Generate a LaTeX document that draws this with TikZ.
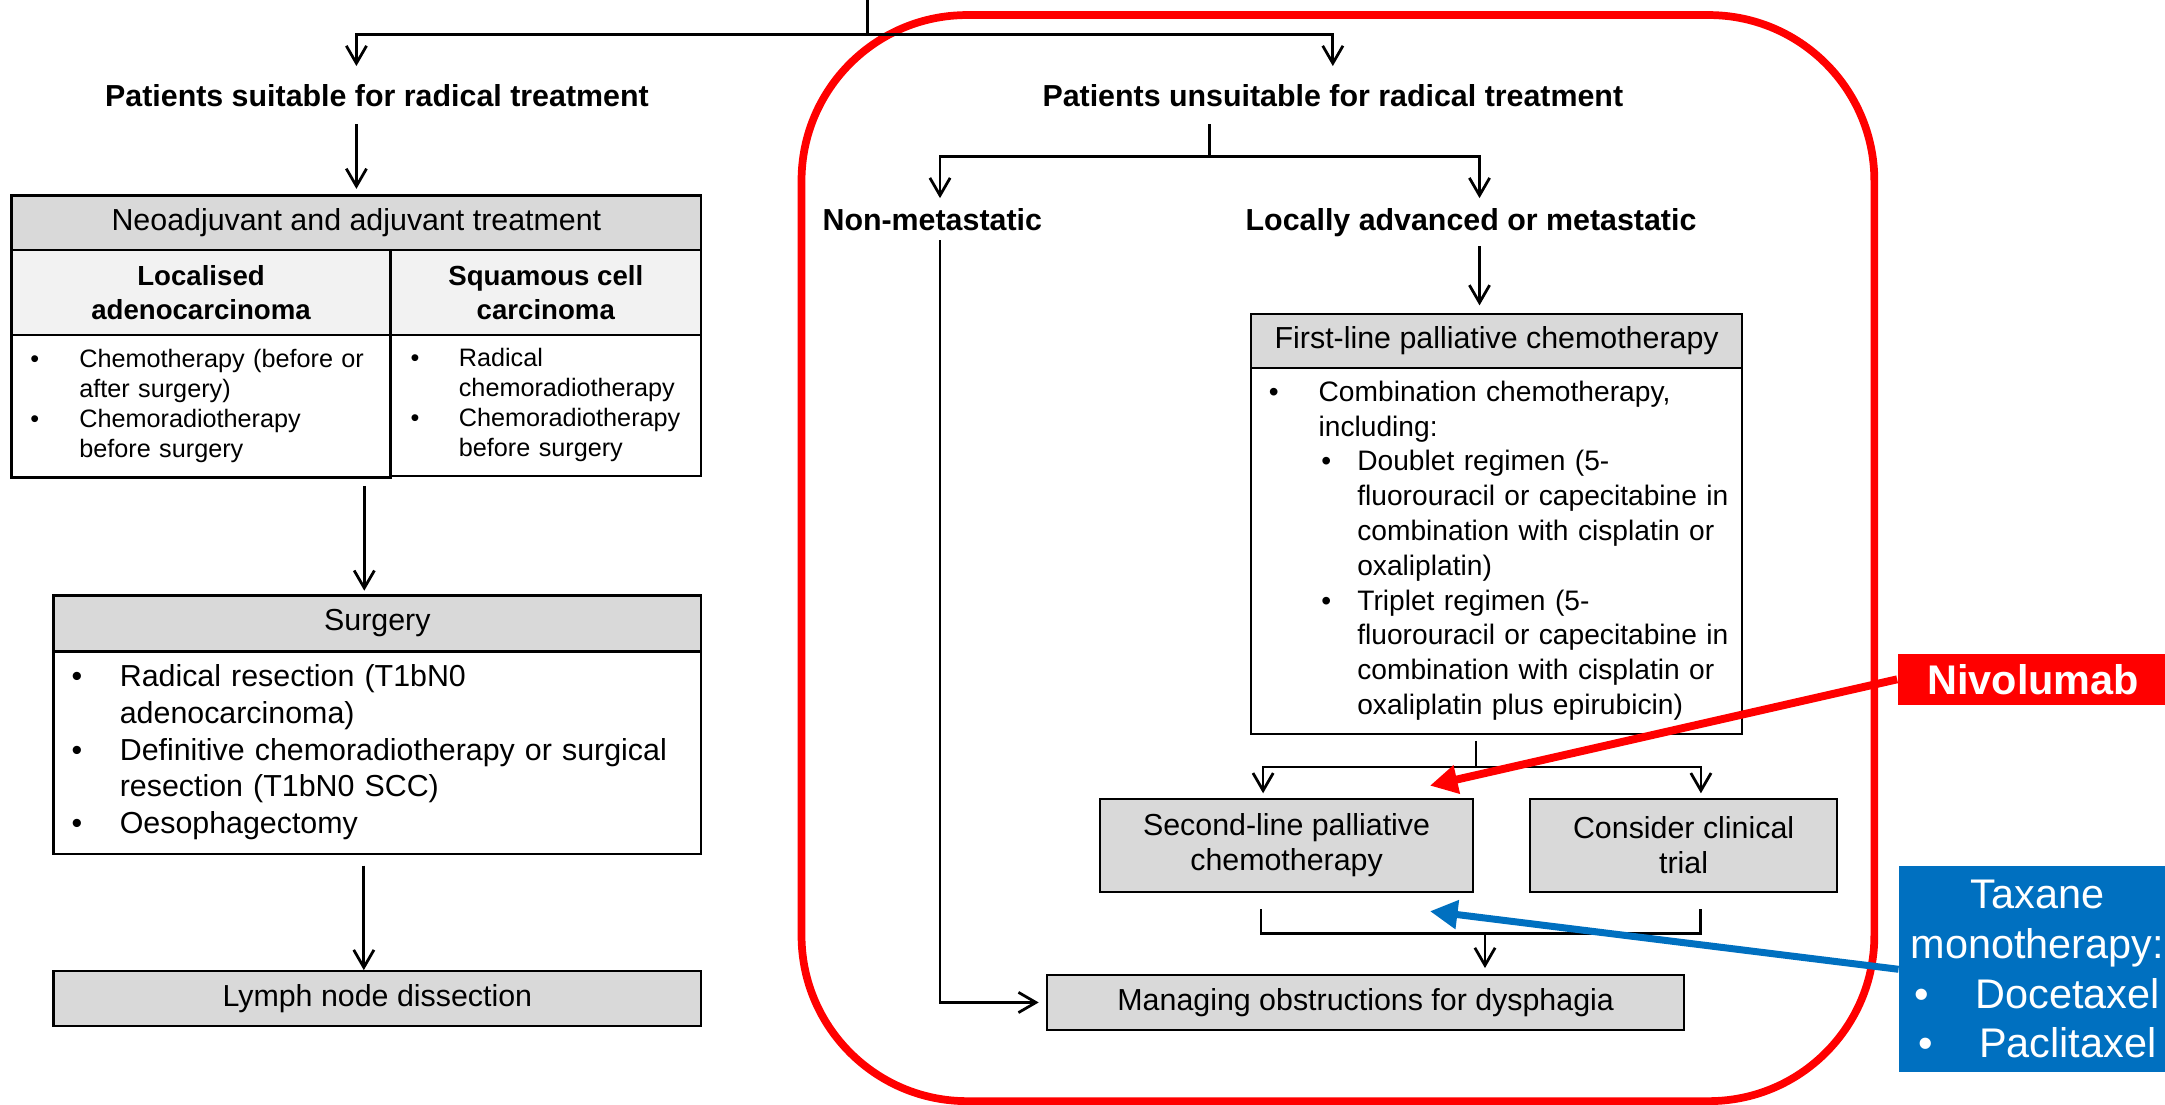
\documentclass[tikz,border=0pt]{standalone}
\usepackage{fontspec}
\setmainfont{Liberation Sans}
\usetikzlibrary{arrows.meta}

\definecolor{hdrgray}{HTML}{D9D9D9}
\definecolor{subgray}{HTML}{F2F2F2}
\definecolor{nivored}{HTML}{FF0000}
\definecolor{taxblue}{HTML}{0070C0}

\tikzset{every picture/.style={line width=0.75pt}}
\tikzset{
  conn/.style={line width=1.5pt},
  arr/.style={conn, -{Straight Barb[length=9.5pt,width=11pt]}},
  hdrbox/.style={draw, line width=1.2pt, fill=hdrgray, anchor=north west, inner sep=0pt, align=center, font=\fontsize{16.5}{18.9}\selectfont},
  subbox/.style={hdrbox, fill=subgray, font=\fontsize{15}{18.3}\selectfont\bfseries},
  listbox/.style={draw, line width=1.2pt, fill=white, anchor=north west, inner ysep=0pt, align=left},
  lbl/.style={anchor=base, inner xsep=0pt, inner ysep=9.4pt, font=\fontsize{16.5}{19.8}\selectfont\bfseries},
  redframe/.style={draw=nivored, line width=4.2pt, rounded corners=90pt},
  tagbox/.style={anchor=north west, inner sep=0pt, text=white, align=center, font=\fontsize{22.5}{27}\selectfont},
  nivoarr/.style={draw=nivored, line width=4.3pt, -{Triangle[length=15pt,width=15pt]}},
  taxarr/.style={draw=taxblue, line width=3.8pt, -{Triangle[length=15pt,width=15pt]}},
}

\begin{document}
\begin{tikzpicture}[x=0.75pt,y=0.75pt,yscale=-1,xscale=1]
\useasboundingbox (0,0) rectangle (1568,800);
\clip (0,0) rectangle (1568,800);

%Shape: Rounded Rect
\draw[redframe] (580.5,10.9) rectangle (1357.5,797.5);

% Text Node
\node[lbl] (suit) at (273,76.8) {Patients suitable for radical treatment};
% Text Node
\node[lbl] (unsuit) at (965.3,76.8) {Patients unsuitable for radical treatment};
% Text Node
\node[lbl, inner ysep=5pt] (nonmet) at (675.2,166.6) {Non-metastatic};
% Text Node
\node[lbl, inner ysep=5pt] (locally) at (1065.4,166.6) {Locally advanced or metastatic};

%Shape: Rectangle
\node[hdrbox, minimum width=374.6pt, minimum height=29.6pt] (neohead) at (7.6,140.8) {Neoadjuvant and adjuvant treatment};
\node[subbox, minimum width=205.8pt, minimum height=46.3pt] (neoadeno) at (7.6,180.3) {Localised\\adenocarcinoma};
\node[subbox, minimum width=168.75pt, minimum height=46.3pt] (neosqc) at (282,180.3) {Squamous cell\\carcinoma};
\node[listbox, inner xsep=10.2pt, text width=185.4pt, minimum height=77.25pt, font=\fontsize{13.7}{16.3}\selectfont] (adenolist) at (7.6,242) {%
\begin{tabular}{@{}p{26.6pt}@{}l@{}}
\textbullet & Chemotherapy (before or\\
 & after surgery)\\
\textbullet & Chemoradiotherapy\\
 & before surgery
\end{tabular}};
\node[listbox, inner xsep=10.9pt, text width=146.95pt, minimum height=76.5pt, font=\fontsize{13.7}{16.3}\selectfont] (sqclist) at (282,242) {%
\begin{tabular}{@{}p{26.25pt}@{}l@{}}
\textbullet & Radical\\
 & chemoradiotherapy\\
\textbullet & Chemoradiotherapy\\
 & before surgery
\end{tabular}};

%Shape: Rectangle
\node[hdrbox, minimum width=351.75pt, minimum height=30.4pt] (surghead) at (38,430.5) {Surgery};
\node[listbox, inner xsep=9.75pt, text width=332.25pt, minimum height=110pt, font=\fontsize{16.5}{20}\selectfont] (surglist) at (38,471) {%
\begin{tabular}{@{}p{26.25pt}@{}l@{}}
\textbullet & Radical resection (T1bN0\\
 & adenocarcinoma)\\
\textbullet & Definitive chemoradiotherapy or surgical\\
 & resection (T1bN0 SCC)\\
\textbullet & Oesophagectomy
\end{tabular}};
\node[hdrbox, minimum width=351.75pt, minimum height=29.9pt] (lymph) at (38,702.6) {Lymph node dissection};

%Shape: Rectangle
\node[hdrbox, minimum width=266.8pt, minimum height=29.3pt] (firsthead) at (905.3,226.5) {First-line palliative chemotherapy};
\node[listbox, inner xsep=9.7pt, text width=247.4pt, minimum height=199pt, font=\fontsize{15.3}{18.9}\selectfont] (firstlist) at (905.3,265.6) {%
\begin{tabular}{@{}p{27pt}@{}p{21pt}@{}l@{}}
\textbullet & \multicolumn{2}{@{}l@{}}{Combination chemotherapy,}\\
 & \multicolumn{2}{@{}l@{}}{including:}\\
 & \hspace{1.5pt}\textbullet & Doublet regimen (5-\\
 & & fluorouracil or capecitabine in\\
 & & combination with cisplatin or\\
 & & oxaliplatin)\\
 & \hspace{1.5pt}\textbullet & Triplet regimen (5-\\
 & & fluorouracil or capecitabine in\\
 & & combination with cisplatin or\\
 & & oxaliplatin plus epirubicin)
\end{tabular}};
\node[hdrbox, minimum width=202.5pt, minimum height=50.25pt] (second) at (796,578) {Second-line palliative\\chemotherapy};
\node[hdrbox, minimum width=166.6pt, minimum height=50.25pt] (trial) at (1107.5,578) {Consider clinical\\trial};
\node[hdrbox, minimum width=346pt, minimum height=29.6pt] (manage) at (757.6,705.5) {Managing obstructions for dysphagia};

%Shape: Rectangle
\node[tagbox, fill=nivored, minimum width=147pt, minimum height=27.75pt, font=\fontsize{22.5}{27}\selectfont\bfseries] (nivo) at (1374,473) {Nivolumab};
\node[tagbox, fill=taxblue, minimum width=150pt, minimum height=111.75pt] (taxane) at (1375,627) {Taxane\\monotherapy:\\\makebox[33pt][l]{\textbullet}Docetaxel\\\makebox[33pt][l]{\textbullet}Paclitaxel};

% junctions
\coordinate (root) at (628.5,0);
\coordinate (fork) at (628.5,25);
\coordinate (split2) at (876,113.5);
\coordinate (split3) at (1069,555.5);
\coordinate (merge) at (1075.5,676);
\coordinate (secin) at ([xshift=-12.75pt]second.north);
\coordinate (trialin) at ([xshift=9.4pt]trial.north);
\coordinate (nivotip) at ([xshift=-24pt,yshift=-6.75pt]second.north east);
\coordinate (taxtip) at ([xshift=-24pt,yshift=10pt]second.south east);

%Straight Lines
\draw[conn] (root) -- (fork);
\draw[arr] (fork) -| (suit.north -| neohead.north);
\draw[arr] (fork) -| (unsuit.north);
\draw[arr, shorten >=3pt] (suit.south -| neohead.north) -- (neohead.north);
\draw[arr, shorten <=4pt, shorten >=2pt] ([xshift=-7.1pt]surghead.north |- adenolist.south) -- ([xshift=-7.1pt]surghead.north);
\draw[arr, shorten <=5.8pt] ([xshift=-7.35pt]lymph.north |- surglist.south) -- ([xshift=-7.35pt]lymph.north);

%Straight Lines
\draw[conn] (split2 |- unsuit.south) -- (split2);
\draw[arr] (split2) -| ([xshift=4.2pt]nonmet.north);
\draw[arr] (split2) -| ([xshift=4.6pt]locally.north);
\draw[arr, shorten >=4pt] ([xshift=4.6pt]locally.south) -- ([xshift=4.6pt]locally.south |- firsthead.north);
\draw[arr, shorten >=4pt] ([xshift=4.2pt]nonmet.south) |- (manage.west);
\draw[conn, shorten <=3pt] (firstlist.south -| split3) -- (split3);
\draw[arr, shorten >=2.6pt] (split3) -| (secin);
\draw[arr, shorten >=2.6pt] (split3) -| (trialin);
\draw[conn, shorten <=9pt, shorten >=9pt] ([xshift=-13.9pt]second.south) |- (merge) -| ([xshift=9.1pt]trial.south);
\draw[arr, shorten >=3.3pt] (merge) -- (merge |- manage.north);

%Straight Lines
\draw[nivoarr] (nivo.west) -- (nivotip);
\draw[taxarr] (taxane.west) -- (taxtip);

\end{tikzpicture}
\end{document}
